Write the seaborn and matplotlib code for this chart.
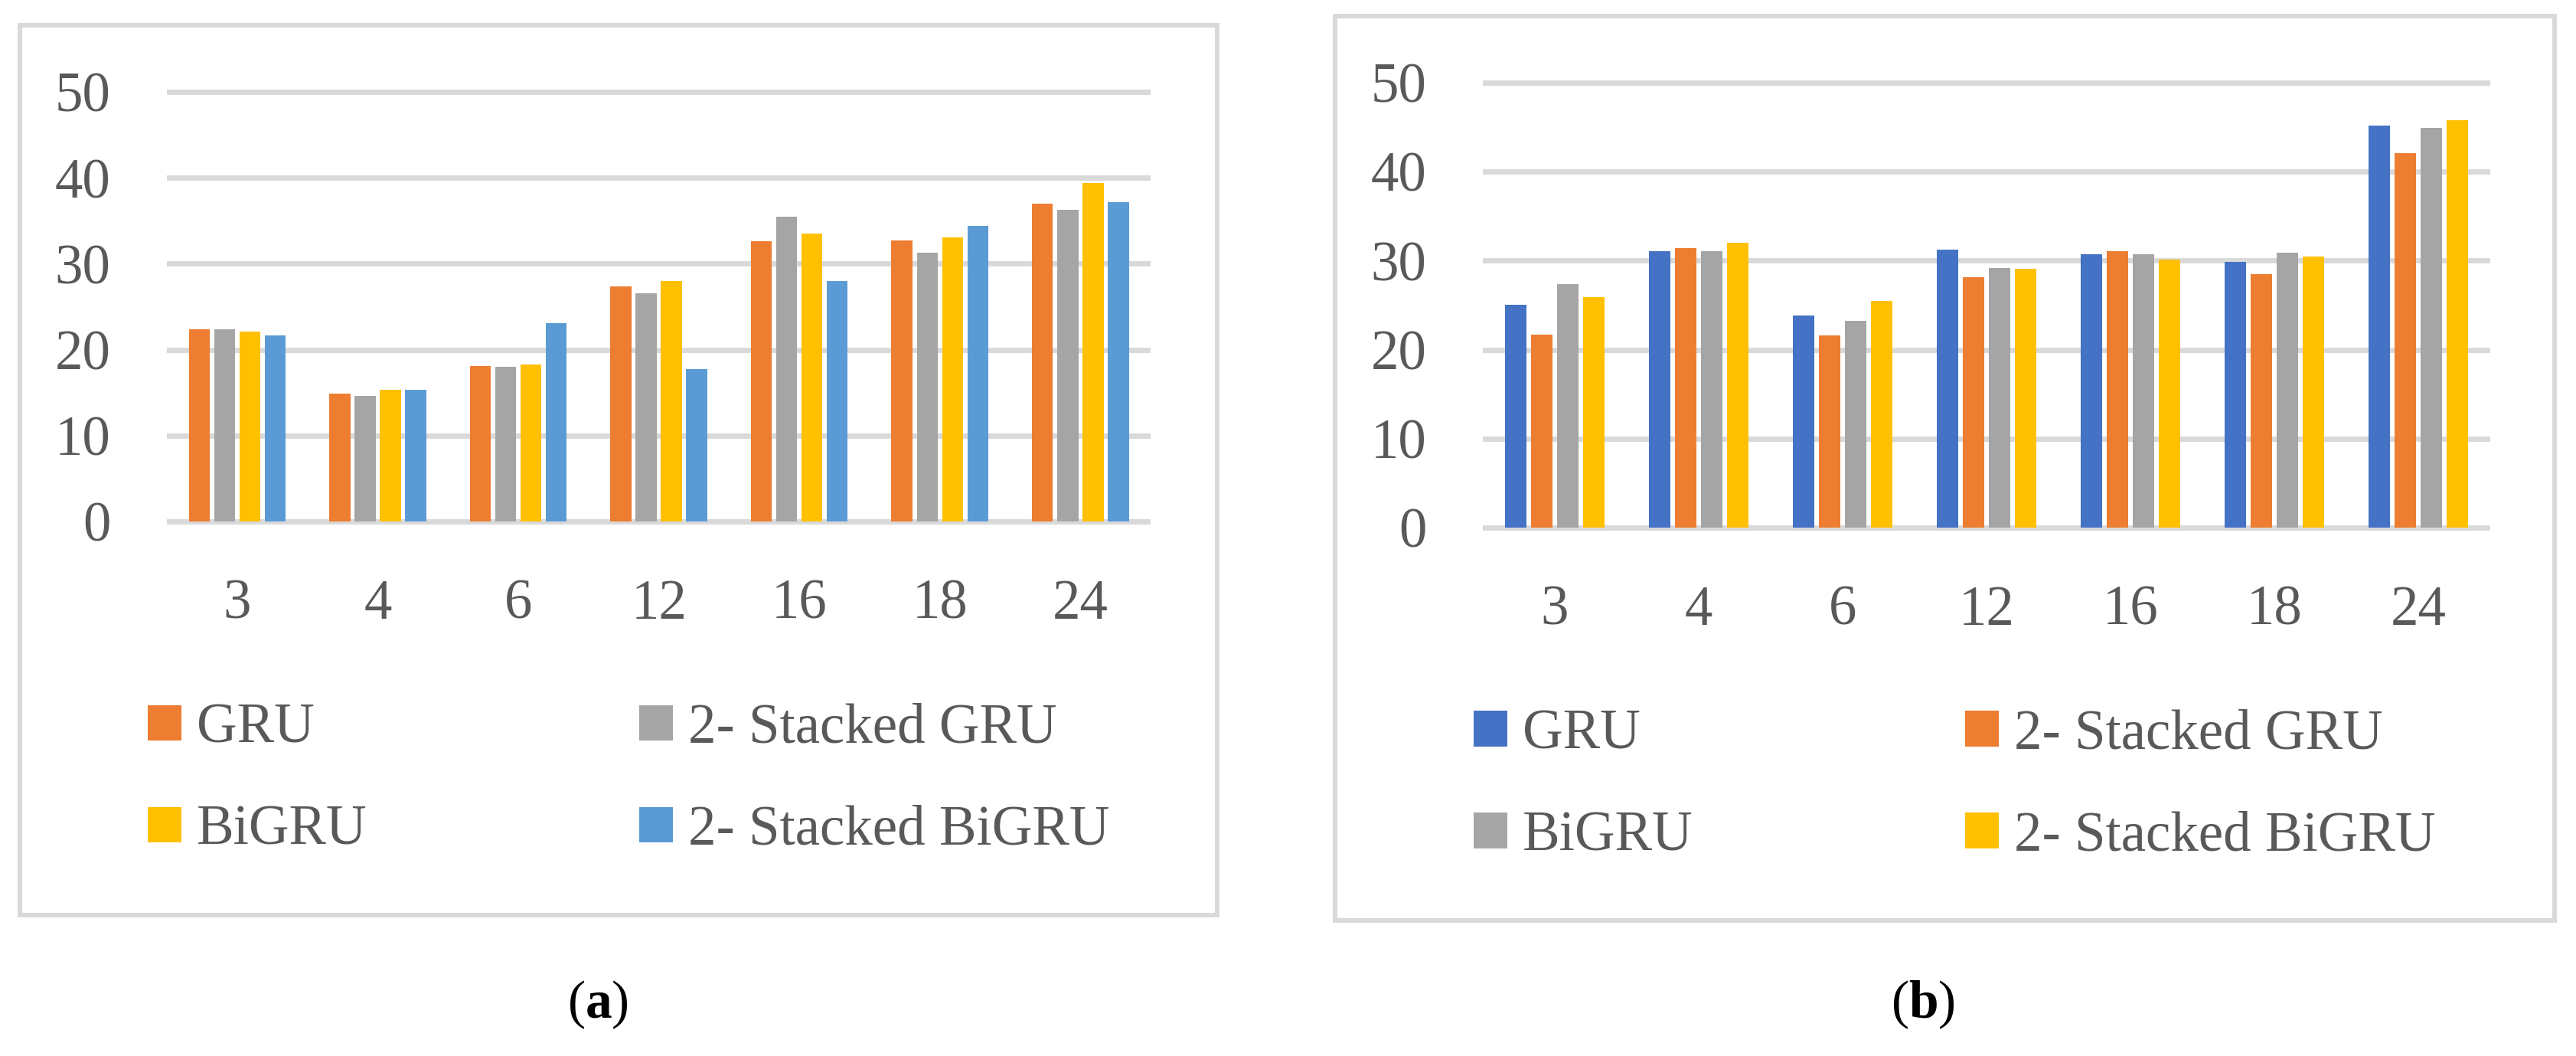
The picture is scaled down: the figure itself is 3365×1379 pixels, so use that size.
import pandas as pd
import numpy as np
import seaborn as sns
import matplotlib.pyplot as plt
from matplotlib.patches import Rectangle

horizons = ["3", "4", "6", "12", "16", "18", "24"]

# panel (a)
models_a = ["GRU", "2- Stacked GRU", "BiGRU", "2- Stacked BiGRU"]
colors_a = ["#ED7D31", "#A5A5A5", "#FFC000", "#5B9BD5"]
gru_a = [22.4, 14.9, 18.1, 27.4, 32.6, 32.7, 37.0]
stacked_gru_a = [22.4, 14.6, 18.0, 26.6, 35.5, 31.3, 36.3]
bigru_a = [22.1, 15.3, 18.3, 28.0, 33.5, 33.1, 39.4]
stacked_bigru_a = [21.7, 15.3, 23.1, 17.7, 28.0, 34.4, 37.2]

# panel (b)
models_b = ["GRU", "2- Stacked GRU", "BiGRU", "2- Stacked BiGRU"]
colors_b = ["#4472C4", "#ED7D31", "#A5A5A5", "#FFC000"]
gru_b = [25.0, 31.1, 23.8, 31.2, 30.7, 29.9, 45.2]
stacked_gru_b = [21.7, 31.4, 21.6, 28.1, 31.1, 28.5, 42.1]
bigru_b = [27.4, 31.1, 23.2, 29.2, 30.7, 30.9, 44.9]
stacked_bigru_b = [25.9, 32.0, 25.5, 29.1, 30.1, 30.5, 45.8]

yticks = [0, 10, 20, 30, 40, 50]

sns.set_style("white")
plt.rcParams["font.family"] = ["Liberation Serif", "DejaVu Serif"]
plt.rcParams["mathtext.fontset"] = "custom"
plt.rcParams["mathtext.rm"] = "Liberation Serif"
plt.rcParams["mathtext.bf"] = "Liberation Serif:bold"

text_gray = "#595959"
line_gray = "#D9D9D9"
fs = 52.5


def long_table(models, series):
    return pd.DataFrame({
        "horizon": horizons * len(models),
        "model": np.repeat(models, len(horizons)),
        "value": np.concatenate(series),
    })


df_a = long_table(models_a, [gru_a, stacked_gru_a, bigru_a, stacked_bigru_a])
df_b = long_table(models_b, [gru_b, stacked_gru_b, bigru_b, stacked_bigru_b])

fig = plt.figure(figsize=(33.65, 13.79), dpi=100)

ax_a = fig.add_axes([0.0648, 0.5021, 0.3819, 0.4149])
ax_b = fig.add_axes([0.5756, 0.4962, 0.3911, 0.4297])

panels = [
    (ax_a, df_a, models_a, colors_a, (0.0574, 0.2614)),
    (ax_b, df_b, models_b, colors_b, (0.5721, 0.2560)),
]

for ax, df, models, colors, leg_pos in panels:
    sns.barplot(
        data=df, x="horizon", y="value", hue="model",
        order=horizons, hue_order=models, palette=colors, saturation=1,
        width=0.72, gap=0.17, errorbar=None, linewidth=0, ax=ax
    )
    ax.set_xlim(-0.5, 6.5)
    ax.set_ylim(-0.5, 50.5)
    ax.set_yticks(yticks)
    ax.set_xlabel("")
    ax.set_ylabel("")
    sns.despine(ax=ax, left=True, bottom=True)
    ax.set_axisbelow(True)
    ax.yaxis.grid(True, color=line_gray, linewidth=5)
    ax.xaxis.grid(False)
    ax.tick_params(axis="y", length=0, pad=53, labelsize=fs, labelcolor=text_gray)
    ax.tick_params(axis="x", length=0, pad=50, labelsize=fs, labelcolor=text_gray)

    handles, labels = ax.get_legend_handles_labels()
    ax.get_legend().remove()
    # two columns, rows: (GRU, 2- Stacked GRU) / (BiGRU, 2- Stacked BiGRU)
    col_shift = 642 / 3365
    for col in range(2):
        idx = [col, col + 2]
        leg = ax.legend(
            [handles[i] for i in idx], [labels[i] for i in idx],
            loc="center left", bbox_to_anchor=(leg_pos[0] + col * col_shift, leg_pos[1]),
            bbox_transform=fig.transFigure, frameon=False, fontsize=fs,
            handlelength=0.6, handleheight=0.6, handletextpad=0.27,
            labelspacing=0.9, borderpad=0, borderaxespad=0, labelcolor=text_gray
        )
        if col == 0:
            ax.add_artist(leg)

# outer frames
fig.patches.append(Rectangle((0.00773, 0.1334), 0.4648, 0.8427, transform=fig.transFigure,
                             fill=False, edgecolor=line_gray, linewidth=4.3))
fig.patches.append(Rectangle((0.5183, 0.1284), 0.4734, 0.8564, transform=fig.transFigure,
                             fill=False, edgecolor=line_gray, linewidth=4.3))

fig.text(781 / 3365, 1 - 1312 / 1379, r"($\mathbf{a}$)", ha="center", va="center",
         fontsize=50, color="black")
fig.text(2512 / 3365, 1 - 1312 / 1379, r"($\mathbf{b}$)", ha="center", va="center",
         fontsize=50, color="black")

plt.savefig("out.png", dpi=100)
